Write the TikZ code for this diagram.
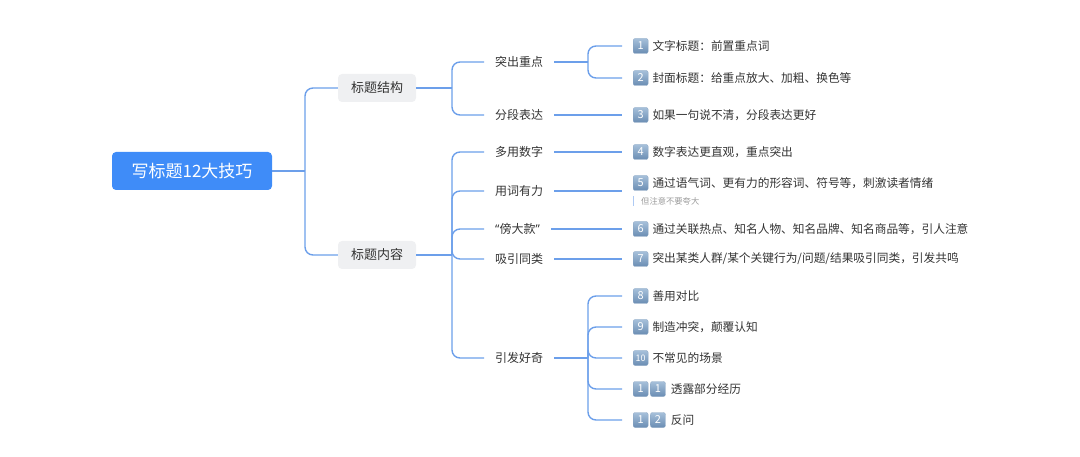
\documentclass[tikz,border=0pt]{standalone}
\usepackage{fontspec}
\setmainfont{Noto Sans CJK SC}
\newfontfamily\quotefont{Noto Sans}
\usetikzlibrary{positioning}
\definecolor{rootblue}{HTML}{3F8CF8}
\definecolor{linkblue}{HTML}{6C9FEA}
\definecolor{topicgray}{HTML}{EFF0F2}
\definecolor{inktext}{HTML}{333333}
\definecolor{notegray}{HTML}{9A9A9A}
\definecolor{badgetop}{HTML}{A6C0DA}
\definecolor{badgebot}{HTML}{6A8DB3}

\begin{document}
\begin{tikzpicture}[x=1pt, y=-1pt,
	every node/.style={font=\fontsize{11.7}{13}\selectfont, text=inktext},
	link/.style={draw=linkblue, line width=1.4pt, rounded corners=8pt},
	rootbox/.style={fill=rootblue, rounded corners=4pt, minimum width=160pt, minimum height=38pt, text=white, font=\fontsize{17}{20}\selectfont},
	topic/.style={fill=topicgray, rounded corners=4pt, minimum height=28pt, inner xsep=13pt, font=\fontsize{13}{15}\selectfont},
	subtopic/.style={anchor=west, inner xsep=11pt, inner ysep=2pt, font=\fontsize{12}{13}\selectfont},
	badge/.style={anchor=west, top color=badgetop, bottom color=badgebot, draw=badgebot!80, line width=0.3pt, rounded corners=2pt, minimum size=15pt, inner sep=0pt, text=white, font=\fontsize{11}{11}\selectfont},
	item/.style={anchor=west, inner sep=0pt},
	note/.style={anchor=west, inner sep=0pt, text=notegray, font=\fontsize{8.3}{9}\selectfont}]
	\useasboundingbox (0,0) rectangle (1080,457);

	\node[rootbox] (root) at (192,171) {写标题12大技巧};
	\node[topic] (jiegou) at (377,88) {标题结构};
	\node[topic] (neirong) at (377,255) {标题内容};
	\coordinate (j0) at (305,171);
	\draw[link] (root.east) -- (j0);
	\draw[link] (j0) |- (jiegou.west);
	\draw[link] (j0) |- (neirong.west);

	% 标题结构
	\node[subtopic] (tuchu) at (484,62) {突出重点};
	\node[subtopic] (fenduan) at (484,115) {分段表达};
	\coordinate (j1) at (452,88);
	\draw[link] (jiegou.east) -- (j1);
	\draw[link] (j1) |- (tuchu.west);
	\draw[link] (j1) |- (fenduan.west);

	\node[badge] (b1) at (633,46) {1};
	\node[item, right=4pt of b1] (t1) {文字标题：前置重点词};
	\node[badge] (b2) at (633,78) {2};
	\node[item, right=4pt of b2] (t2) {封面标题：给重点放大、加粗、换色等};
	\node[badge] (b3) at (633,115) {3};
	\node[item, right=4pt of b3] (t3) {如果一句说不清，分段表达更好};
	\coordinate (j2) at (588,62);
	\draw[link] (tuchu.east) -- (j2);
	\draw[link, shorten >=11pt] (j2) |- (b1.west);
	\draw[link, shorten >=11pt] (j2) |- (b2.west);
	\draw[link, shorten >=11pt] (fenduan.east) -- (b3.west);

	% 标题内容
	\node[subtopic] (duoyong) at (484,152) {多用数字};
	\node[subtopic] (yongci) at (484,191) {用词有力};
	\node[subtopic] (bangda) at (484,229) {{\quotefont “}傍大款{\quotefont ”}};
	\node[subtopic] (xiyin) at (484,259) {吸引同类};
	\node[subtopic] (yinfa) at (484,358) {引发好奇};
	\coordinate (j3) at (452,255);
	\draw[link] (neirong.east) -- (j3);
	\draw[link] (j3) |- (duoyong.west);
	\draw[link] (j3) |- (yongci.west);
	\draw[link] (j3) |- (bangda.west);
	\draw[link] (j3) |- (xiyin.west);
	\draw[link] (j3) |- (yinfa.west);

	\node[badge] (b4) at (633,152) {4};
	\node[item, right=4pt of b4] (t4) {数字表达更直观，重点突出};
	\node[badge] (b5) at (633,183) {5};
	\node[item, right=4pt of b5] (t5) {通过语气词、更有力的形容词、符号等，刺激读者情绪};
	\node[note] (n5) at (641,201) {但注意不要夸大};
	\draw[linkblue!55, line width=1pt] (633,196) -- (633,206);
	\node[badge] (b6) at (633,229) {6};
	\node[item, right=4pt of b6] (t6) {通过关联热点、知名人物、知名品牌、知名商品等，引人注意};
	\node[badge] (b7) at (633,259) {7};
	\node[item, right=4pt of b7] (t7) {突出某类人群/某个关键行为/问题/结果吸引同类，引发共鸣};
	\coordinate (k5) at (622,191);
	\draw[link, shorten >=11pt] (duoyong.east) -- (b4.west);
	\draw[link] (yongci.east) -- (k5);
	\draw[link, shorten >=11pt] (bangda.east) -- (b6.west);
	\draw[link, shorten >=11pt] (xiyin.east) -- (b7.west);

	% 引发好奇
	\node[badge] (b8) at (633,296) {8};
	\node[item, right=4pt of b8] (t8) {善用对比};
	\node[badge] (b9) at (633,327) {9};
	\node[item, right=4pt of b9] (t9) {制造冲突，颠覆认知};
	\node[badge, font=\fontsize{9}{9}\selectfont] (b10) at (633,358) {10};
	\node[item, right=4pt of b10] (t10) {不常见的场景};
	\node[badge] (b11) at (633,389) {1};
	\node[badge, right=2pt of b11] (b11b) {1};
	\node[item, right=5pt of b11b] (t11) {透露部分经历};
	\node[badge] (b12) at (633,420) {1};
	\node[badge, right=2pt of b12] (b12b) {2};
	\node[item, right=5pt of b12b] (t12) {反问};
	\coordinate (j4) at (588,358);
	\draw[link] (yinfa.east) -- (j4);
	\draw[link, shorten >=11pt] (j4) |- (b8.west);
	\draw[link, shorten >=11pt] (j4) |- (b9.west);
	\draw[link, shorten >=11pt] (j4) |- (b10.west);
	\draw[link, shorten >=11pt] (j4) |- (b11.west);
	\draw[link, shorten >=11pt] (j4) |- (b12.west);
\end{tikzpicture}
\end{document}
